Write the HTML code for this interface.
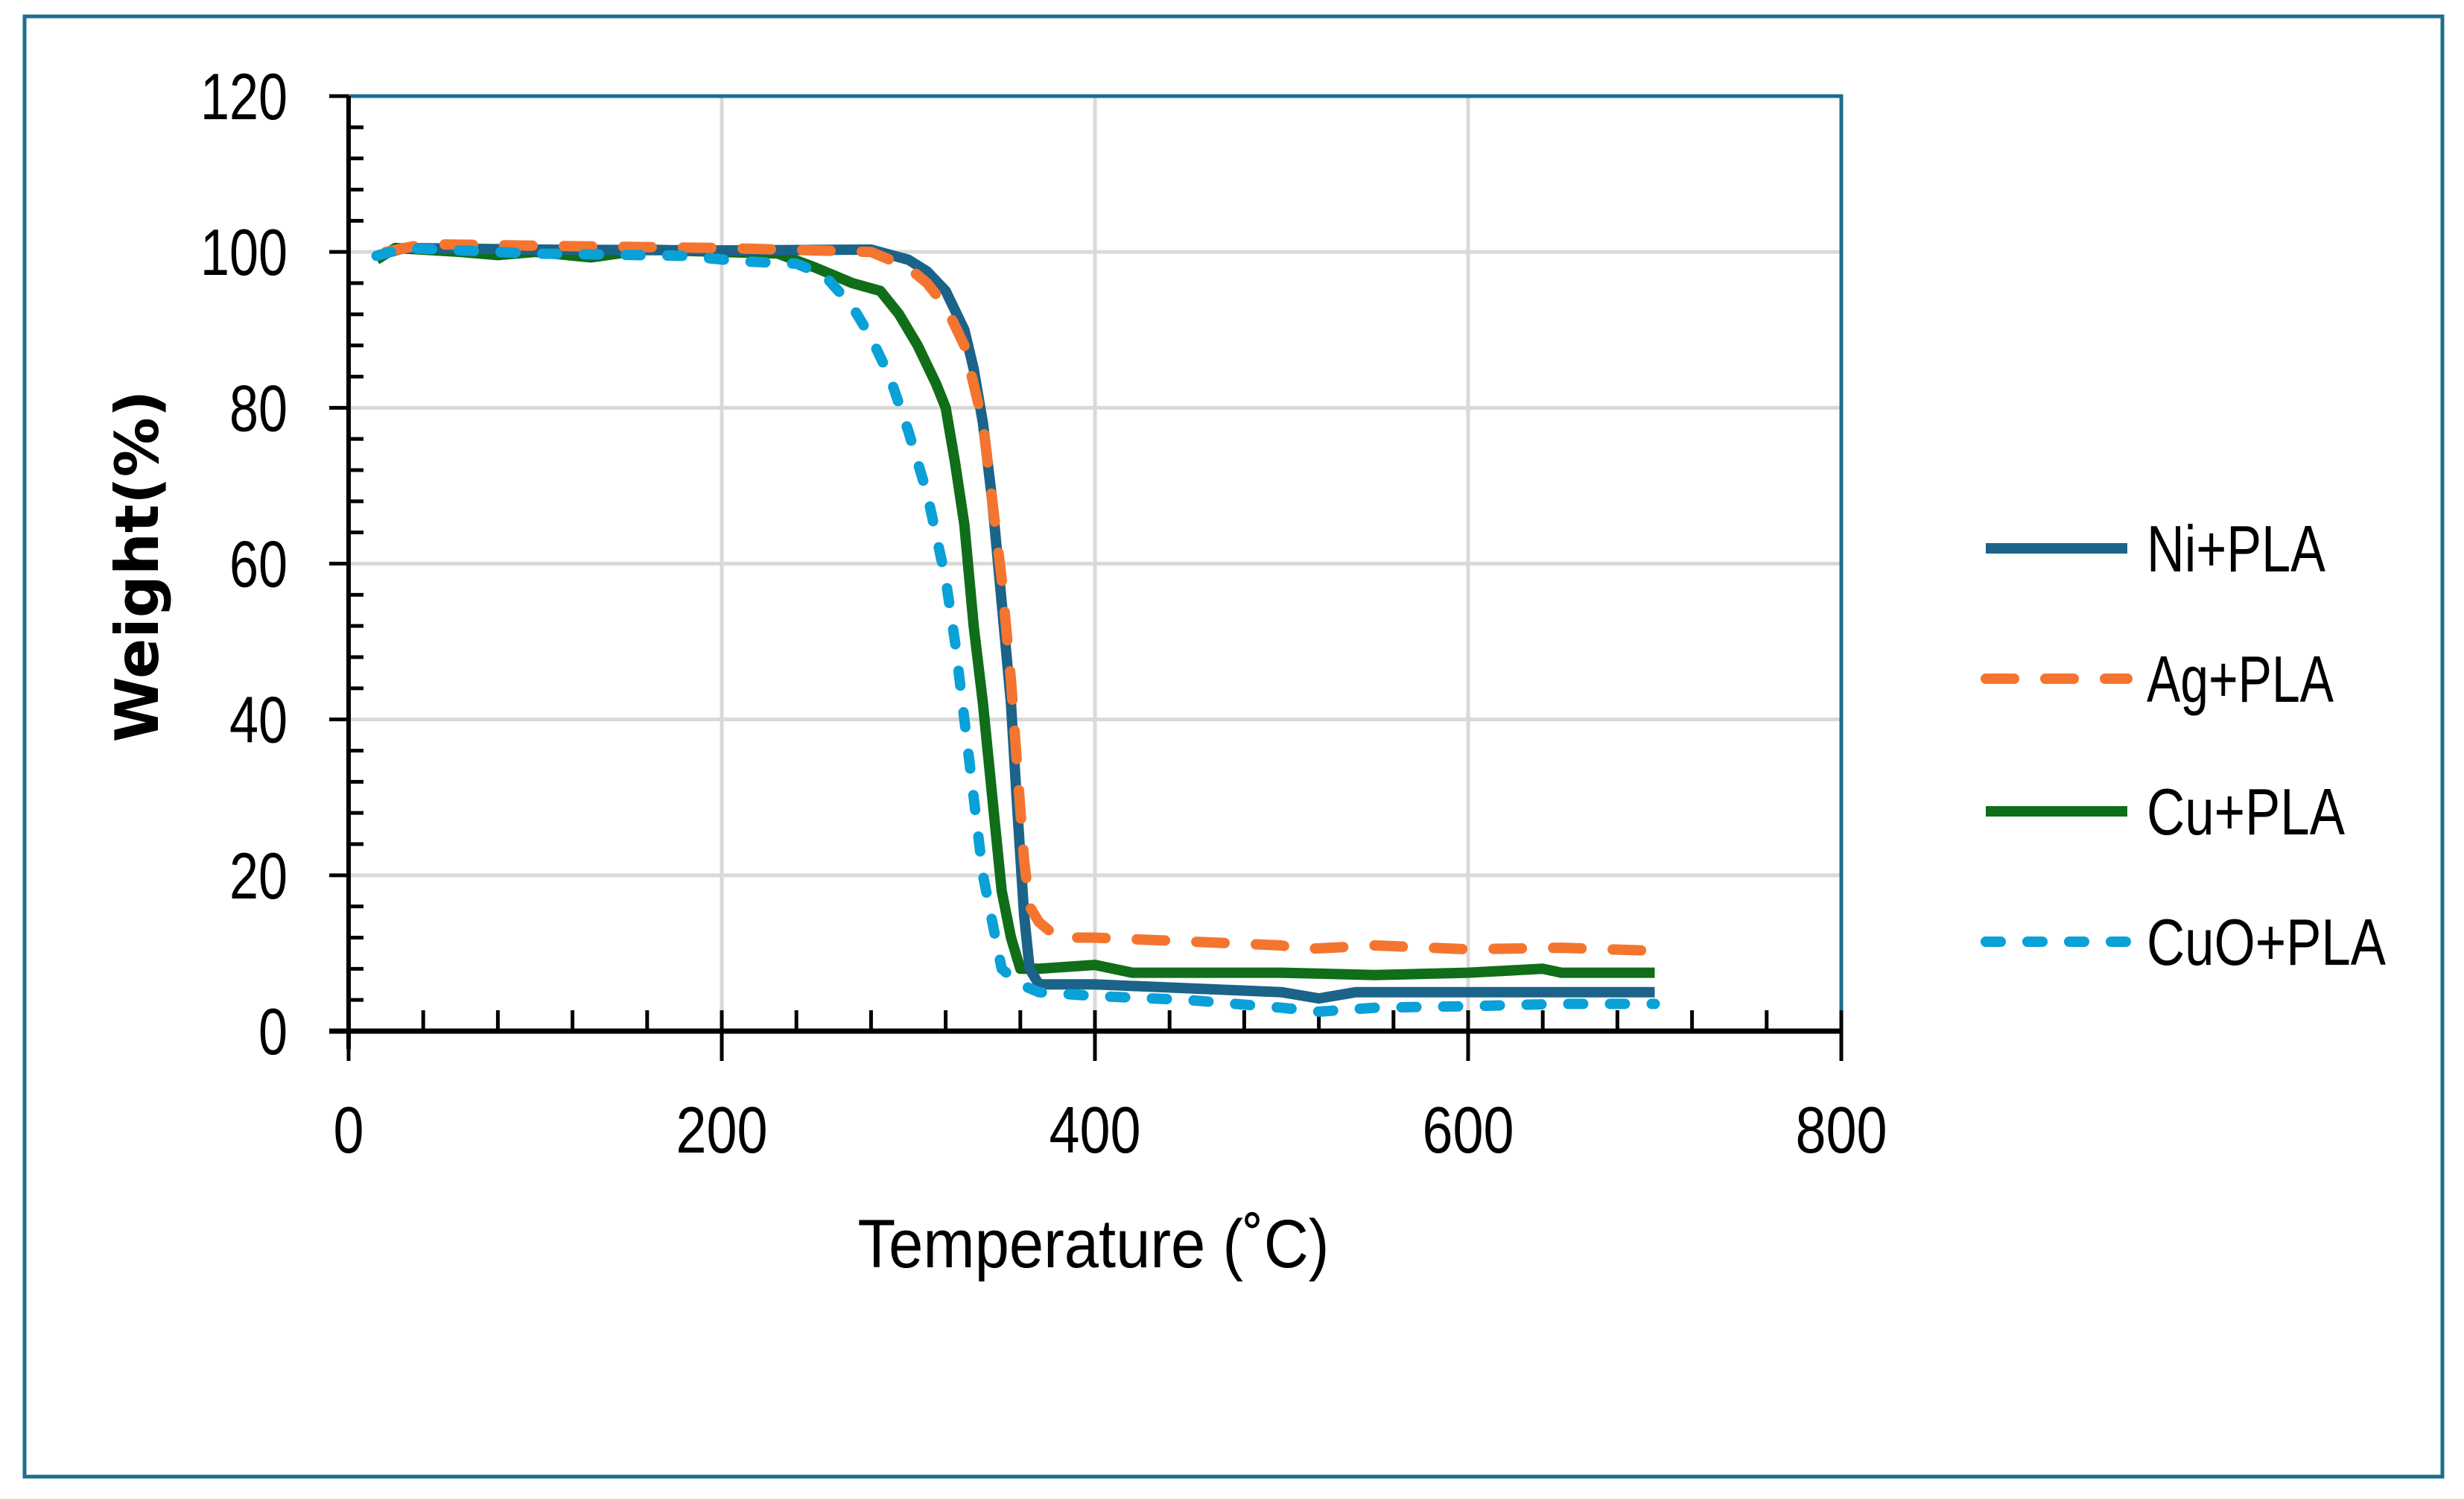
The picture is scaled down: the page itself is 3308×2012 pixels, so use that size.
<!DOCTYPE html>
<html><head><meta charset="utf-8">
<style>
html,body{margin:0;padding:0;background:#fff;}
svg{display:block;}
text{font-family:"Liberation Sans Narrow","Liberation Sans",sans-serif;fill:#000;}
</style></head>
<body>
<svg id="chart" width="3308" height="2012" viewBox="0 0 3308 2012" xmlns="http://www.w3.org/2000/svg">
<rect x="33" y="22" width="3246" height="1960" fill="#fff" stroke="#1c6e8c" stroke-width="5"/>
<g id="grid"></g>
<g id="axes"></g>
<g id="series"></g>
<text x="1468" y="1701" font-size="92" text-anchor="middle" textLength="633" lengthAdjust="spacingAndGlyphs">Temperature (˚C)</text>
<text transform="translate(212,760) rotate(-90)" font-size="80" font-weight="bold" text-anchor="middle" style="font-family:'DejaVu Sans','Liberation Sans',sans-serif">Weight(%)</text>
<g id="legend"></g>
</svg>
<script>
const xTicks=[0,200,400,600,800];
const yTicks=[0,20,40,60,80,100,120];
const seriesNames=["Ni+PLA","Ag+PLA","Cu+PLA","CuO+PLA"];
const niT=[15,30,100,200,280,300,310,320,330,335,340,345,350,355,358,362,365,370,400,450,500,520,540,600,650,700];
const niW=[99.5,100.5,100.3,100.2,100.3,99,97.5,95,90,85,78,68,55,42,30,15,8,6,6,5.5,5,4.2,5,5,5,5];
const agT=[20,40,100,200,250,280,300,310,320,330,340,345,350,355,358,362,365,370,380,400,450,500,510,550,600,650,700];
const agW=[100,101,100.8,100.5,100.2,100,98,96,93,88,78,68,58,45,35,22,16,14,12,12,11.5,11,10.5,11,10.5,10.7,10.3];
const cuT=[15,25,60,80,100,130,160,200,230,250,270,285,295,305,315,320,325,330,335,340,345,350,355,360,370,400,420,500,550,600,640,650,700];
const cuW=[99,100.5,100,99.6,100,99.3,100.3,100,99.8,98,96,95,92,88,83,80,73,65,52,42,30,18,12,8,8,8.5,7.5,7.5,7.2,7.5,8,7.5,7.5];
const cuoT=[15,30,100,180,210,240,255,270,280,290,300,310,320,325,330,335,340,345,350,360,370,400,450,500,520,550,600,650,700];
const cuoW=[99.5,100.5,99.8,99.5,98.8,98.5,97,93,89,84,77,69,58,50,40,30,20,14,8,6,5,4.5,4,3,2.5,3,3.2,3.5,3.5];

const NS="http://www.w3.org/2000/svg";
const L=468,R=2472,T=129,B=1384;
const xS=v=>L+(v-0)/800*(R-L);
const yS=v=>B-(v-0)/120*(B-T);
function mk(tag,attrs,parent){const e=document.createElementNS(NS,tag);for(const k in attrs)e.setAttribute(k,attrs[k]);parent.appendChild(e);return e;}
const grid=document.getElementById('grid'),axes=document.getElementById('axes'),ser=document.getElementById('series'),leg=document.getElementById('legend');
yTicks.forEach(v=>{if(v===0||v===120)return;const l=mk('line',{x1:L,x2:R,y1:yS(v),y2:yS(v),stroke:'#d9d9d9','stroke-width':5},grid);

});
xTicks.forEach(v=>{if(v===0||v===800)return;const l=mk('line',{x1:xS(v),x2:xS(v),y1:T,y2:B,stroke:'#d9d9d9','stroke-width':5},grid);

});
const pb=mk('polyline',{points:`${L},${T} ${R},${T} ${R},${B}`,fill:'none',stroke:'#1c6e8c','stroke-width':5},axes);


const ya=mk('line',{x1:L,x2:L,y1:T,y2:B+24,stroke:'#000','stroke-width':6},axes);


const xa=mk('line',{x1:L-26,x2:R,y1:B,y2:B,stroke:'#000','stroke-width':7},axes);


for(let v=0;v<=120;v+=4){const t=mk('line',{x1:L,x2:(v%20===0?L-26:L+20),y1:yS(v),y2:yS(v),stroke:'#000','stroke-width':5},axes);

}
for(let v=0;v<=800;v+=40){const t=mk('line',{x1:xS(v),x2:xS(v),y1:(v%200===0?B+40:B),y2:B-28,stroke:'#000','stroke-width':5},axes);

}
yTicks.forEach(v=>{const s=String(v);const t=mk('text',{x:386,y:yS(v)+31,'font-size':88,'text-anchor':'end',textLength:s.length*39,lengthAdjust:'spacingAndGlyphs'},axes);t.textContent=s;

});
xTicks.forEach(v=>{const s=String(v);const t=mk('text',{x:xS(v),y:1547,'font-size':88,'text-anchor':'middle',textLength:s.length*41,lengthAdjust:'spacingAndGlyphs'},axes);t.textContent=s;

});
const styles=[{c:'#1b6388',d:'none',cap:'butt'},{c:'#f4752f',d:'38,42',cap:'round'},{c:'#0f6e17',d:'none',cap:'butt'},{c:'#0aa0d8',d:'20,36',cap:'round'}];
const data=[[niT,niW],[agT,agW],[cuT,cuW],[cuoT,cuoW]];
const order=[2,0,1,3];
order.forEach(i=>{const [xs,ys]=data[i];const pts=xs.map((x,j)=>xS(x).toFixed(1)+','+yS(ys[j]).toFixed(1)).join(' ');
const p=mk('polyline',{points:pts,fill:'none',stroke:styles[i].c,'stroke-width':14,'stroke-linejoin':'round','stroke-linecap':styles[i].cap},ser);
if(styles[i].d!=='none')p.setAttribute('stroke-dasharray',styles[i].d);

});
const legY=[736,911,1089,1264];
const legW=[240,251,266,321];
seriesNames.forEach((n,i)=>{const g=mk('g',{},leg);


const l=mk('line',{x1:2666,x2:2856,y1:legY[i],y2:legY[i],stroke:styles[i].c,'stroke-width':14,'stroke-linecap':styles[i].cap},g);
if(styles[i].d!=='none')l.setAttribute('stroke-dasharray',styles[i].d);
const t=mk('text',{x:2882,y:legY[i]+31,'font-size':88,textLength:legW[i],lengthAdjust:'spacingAndGlyphs'},g);t.textContent=n;});
</script>
</body></html>
